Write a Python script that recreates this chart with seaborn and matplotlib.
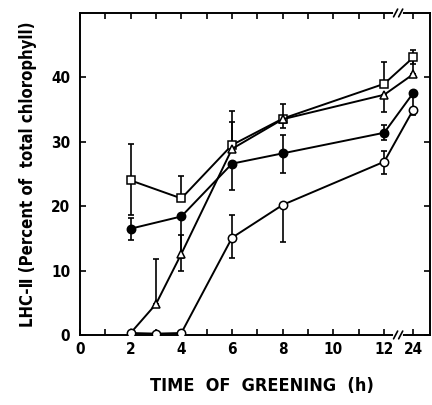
import numpy as np
import pandas as pd
import matplotlib
matplotlib.use("Agg")
import matplotlib.pyplot as plt
import seaborn as sns

# hours of greening, 24 h is drawn after an axis break
hours_all = [2, 3, 4, 6, 8, 12, 24]
hours_fc = [2, 4, 6, 8, 12, 24]

# open squares
sq_y = [24.0, 21.2, 29.5, 33.6, 39.0, 43.1]
sq_lo = [5.3, 0.0, 0.0, 1.5, 0.0, 1.1]
sq_hi = [5.6, 3.5, 5.2, 2.2, 3.4, 1.1]

# open triangles
tri_y = [0.3, 4.8, 12.6, 28.9, 33.5, 37.3, 40.5]
tri_lo = [0.0, 0.0, 2.6, 0.0, 0.0, 2.7, 0.0]
tri_hi = [0.0, 7.0, 2.9, 4.2, 0.0, 0.0, 2.5]

# filled circles
fc_y = [16.5, 18.4, 26.6, 28.2, 31.4, 37.6]
fc_lo = [1.8, 6.4, 4.1, 3.0, 1.1, 3.3]
fc_hi = [1.6, 0.0, 0.0, 2.8, 1.2, 0.0]

# open circles
oc_y = [0.3, 0.2, 0.3, 15.1, 20.2, 26.9, 35.0]
oc_lo = [0.0, 0.0, 0.0, 3.2, 5.8, 1.9, 0.9]
oc_hi = [0.0, 0.0, 0.0, 3.5, 0.0, 1.7, 0.0]

tick_pos = [0, 2, 4, 6, 8, 10, 12, 13.15]
tick_labels = ["0", "2", "4", "6", "8", "10", "12", "24"]
POS_24 = 13.15
BREAK_X = 12.55


def to_pos(h):
    return [x if x <= 12 else POS_24 for x in h]


sns.set_style("ticks")
plt.rcParams["font.family"] = ["DejaVu Sans"]
plt.rcParams["font.stretch"] = "condensed"
plt.rcParams["font.weight"] = "bold"
for k in ("text.color", "axes.labelcolor", "xtick.color", "ytick.color", "axes.edgecolor"):
    plt.rcParams[k] = "black"

fig = plt.figure(figsize=(4.32, 4.05), dpi=100)
ax = fig.add_axes([0.185, 0.173, 0.81, 0.795])

series = [
    (hours_fc, sq_y, sq_lo, sq_hi, "s", "white"),
    (hours_all, tri_y, tri_lo, tri_hi, "^", "white"),
    (hours_fc, fc_y, fc_lo, fc_hi, "o", "black"),
    (hours_all, oc_y, oc_lo, oc_hi, "o", "white"),
]

for h, y, lo, hi, mk, fcol in series:
    df = pd.DataFrame({"pos": to_pos(h), "val": y})
    ax.errorbar(df["pos"], df["val"], yerr=[lo, hi], fmt="none", ecolor="black",
                elinewidth=1.2, capsize=2.5, capthick=1.2, zorder=2)
    sns.lineplot(data=df, x="pos", y="val", ax=ax, color="black", linewidth=1.4,
                 marker=mk, markersize=6, markerfacecolor=fcol,
                 markeredgecolor="black", markeredgewidth=1.1, zorder=3)

ax.set_xlim(0, 13.8)
ax.set_ylim(0, 50)
ax.set_xticks(tick_pos)
ax.set_xticklabels(tick_labels)
ax.set_xticks(np.arange(1, 12, 2), minor=True)
ax.set_yticks([0, 10, 20, 30, 40])
for s in ax.spines.values():
    s.set_linewidth(1.4)
    s.set_color("black")
ax.tick_params(which="both", direction="in", top=True, right=True,
               length=4, width=1.2, labelsize=11, pad=5)
ax.tick_params(axis="y", pad=7)

# axis break marks
for yb in (0, 1):
    ax.plot([BREAK_X - 0.12, BREAK_X + 0.12], [yb, yb], transform=ax.get_xaxis_transform(),
            color="white", linewidth=3, clip_on=False, zorder=5)
    for dx in (-0.1, 0.1):
        ax.plot([BREAK_X + dx - 0.08, BREAK_X + dx + 0.08], [yb - 0.012, yb + 0.012],
                transform=ax.get_xaxis_transform(), color="black", linewidth=1.2,
                clip_on=False, zorder=6)

ax.set_xlabel("TIME  OF  GREENING  (h)", fontsize=13, fontweight="bold", labelpad=12)
ax.xaxis.set_label_coords(0.52, -0.13)
ax.set_ylabel("LHC-Ⅱ (Percent of  total chlorophyll)", fontsize=12, fontweight="bold", labelpad=10)

fig.savefig("out.png", dpi=100)
